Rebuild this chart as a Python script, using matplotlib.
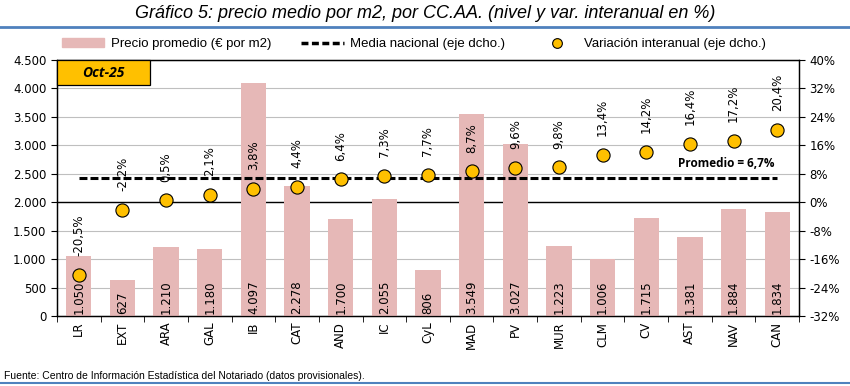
import numpy as np
import matplotlib.pyplot as plt
from matplotlib.patches import Rectangle
from matplotlib.lines import Line2D
from matplotlib.ticker import FuncFormatter

# datos
ccaa = ['LR', 'EXT', 'ARA', 'GAL', 'IB', 'CAT', 'AND', 'IC', 'CyL', 'MAD',
        'PV', 'MUR', 'CLM', 'CV', 'AST', 'NAV', 'CAN']
precio = [1050, 627, 1210, 1180, 4097, 2278, 1700, 2055, 806, 3549,
          3027, 1223, 1006, 1715, 1381, 1884, 1834]
variacion = [-20.5, -2.2, 0.5, 2.1, 3.8, 4.4, 6.4, 7.3, 7.7, 8.7,
             9.6, 9.8, 13.4, 14.2, 16.4, 17.2, 20.4]
media = 6.7

narrow = ['Liberation Sans Narrow', 'Liberation Sans', 'DejaVu Sans']
lab_font = ['DejaVu Sans']

fig = plt.figure(figsize=(8.5, 3.86), dpi=100)
ax = fig.add_axes([0.067, 0.181, 0.873, 0.664])
ax2 = ax.twinx()

x = np.arange(len(ccaa))
bar_col = '#E6B8B7'
ax.bar(x, precio, width=0.58, color=bar_col, zorder=3)
ax.set_ylim(0, 4500)
ax.set_yticks(np.arange(0, 4501, 500))
ax.yaxis.set_major_formatter(FuncFormatter(lambda v, p: f'{int(v):,}'.replace(',', '.')))
ax.grid(axis='y', color='#BFBFBF', linewidth=0.8, zorder=0)
ax.axhline(2000, color='black', linewidth=1.0, zorder=2)
ax.set_xlim(-0.5, len(ccaa) - 0.5)
ax.set_xticks(x)
ax.set_xticklabels(ccaa, rotation=90, fontsize=8.5, family=lab_font)
ax.tick_params(axis='x', which='major', length=0, pad=4)
ax.set_xticks(np.arange(-0.5, len(ccaa)), minor=True)
ax.tick_params(axis='x', which='minor', length=4, color='black')
ax.tick_params(axis='y', labelsize=8.5, length=4)
for lab in ax.get_yticklabels():
    lab.set_family(lab_font)

for xi, v in zip(x, precio):
    ax.text(xi, 40, f'{v:,}'.replace(',', '.'), rotation=90, ha='center', va='bottom',
            fontsize=8.5, family=lab_font, zorder=5)

ax2.set_ylim(-32, 40)
ax2.set_yticks(np.arange(-32, 41, 8))
ax2.yaxis.set_major_formatter(FuncFormatter(lambda v, p: f'{int(v)}%'))
ax2.tick_params(axis='y', labelsize=8.5, length=4)
for lab in ax2.get_yticklabels():
    lab.set_family(lab_font)
ax2.plot([x[0], x[-1]], [media, media], color='black', linestyle=(0, (2.6, 1.0)),
         linewidth=2.2, zorder=3)
ax2.scatter(x, variacion, s=90, color='#FFC000', edgecolor='black', linewidth=0.8, zorder=4)
for xi, v in zip(x, variacion):
    ax2.annotate(f'{v:.1f}%'.replace('.', ','), (xi, v), xytext=(0, 13.5),
                 textcoords='offset points', rotation=90, ha='center', va='bottom',
                 fontsize=8.5, family=lab_font)
ax2.text(x[-1] - 0.05, 11, 'Promedio = ' + f'{media:.1f}%'.replace('.', ','),
         ha='right', va='center', fontsize=8.5, fontweight='bold', family=['Open Sans', 'DejaVu Sans'])

for a in (ax, ax2):
    for s in a.spines.values():
        s.set_color('black')
        s.set_linewidth(0.9)

# caja Oct-25
box = Rectangle((0, 0.9), 0.125, 0.1, transform=ax.transAxes, facecolor='#FFC000',
                edgecolor='black', linewidth=0.9, zorder=6, clip_on=False)
ax2.add_patch(box)
ax2.text(0.0625, 0.95, 'Oct-25', transform=ax.transAxes, ha='center', va='center',
         fontsize=10, fontweight='bold', style='italic', zorder=7,
         family=['Open Sans', 'DejaVu Sans'])

# leyenda
handles = [Rectangle((0, 0), 1, 1, color=bar_col),
           Line2D([], [], color='black', linestyle=(0, (2, 1)), linewidth=2.5),
           Line2D([], [], marker='o', linestyle='none', markersize=7,
                  markerfacecolor='#FFC000', markeredgecolor='black', markeredgewidth=0.8)]
labels = ['Precio promedio (€ por m2)', 'Media nacional (eje dcho.)', 'Variación interanual (eje dcho.)']
fig.legend(handles, labels, loc='center', bbox_to_anchor=(0.487, 0.886), ncol=3, frameon=False,
           prop={'family': narrow, 'size': 9.5}, columnspacing=2.3, handlelength=3.2,
           handletextpad=0.5)

# titulo y lineas
fig.text(0.5, 0.965, 'Gráfico 5: precio medio por m2, por CC.AA. (nivel y var. interanual en %)',
         ha='center', va='center', fontsize=13, style='italic', family=narrow)
fig.add_artist(Line2D([0, 1], [0.93, 0.93], transform=fig.transFigure, color='#4F81BD', linewidth=2))
fig.add_artist(Line2D([0, 1], [0.008, 0.008], transform=fig.transFigure, color='#4F81BD', linewidth=1.5))
fig.text(0.005, 0.026, 'Fuente: Centro de Información Estadística del Notariado (datos provisionales).',
         ha='left', va='center', fontsize=7.5, family=narrow)

fig.savefig('out.png', dpi=100)
